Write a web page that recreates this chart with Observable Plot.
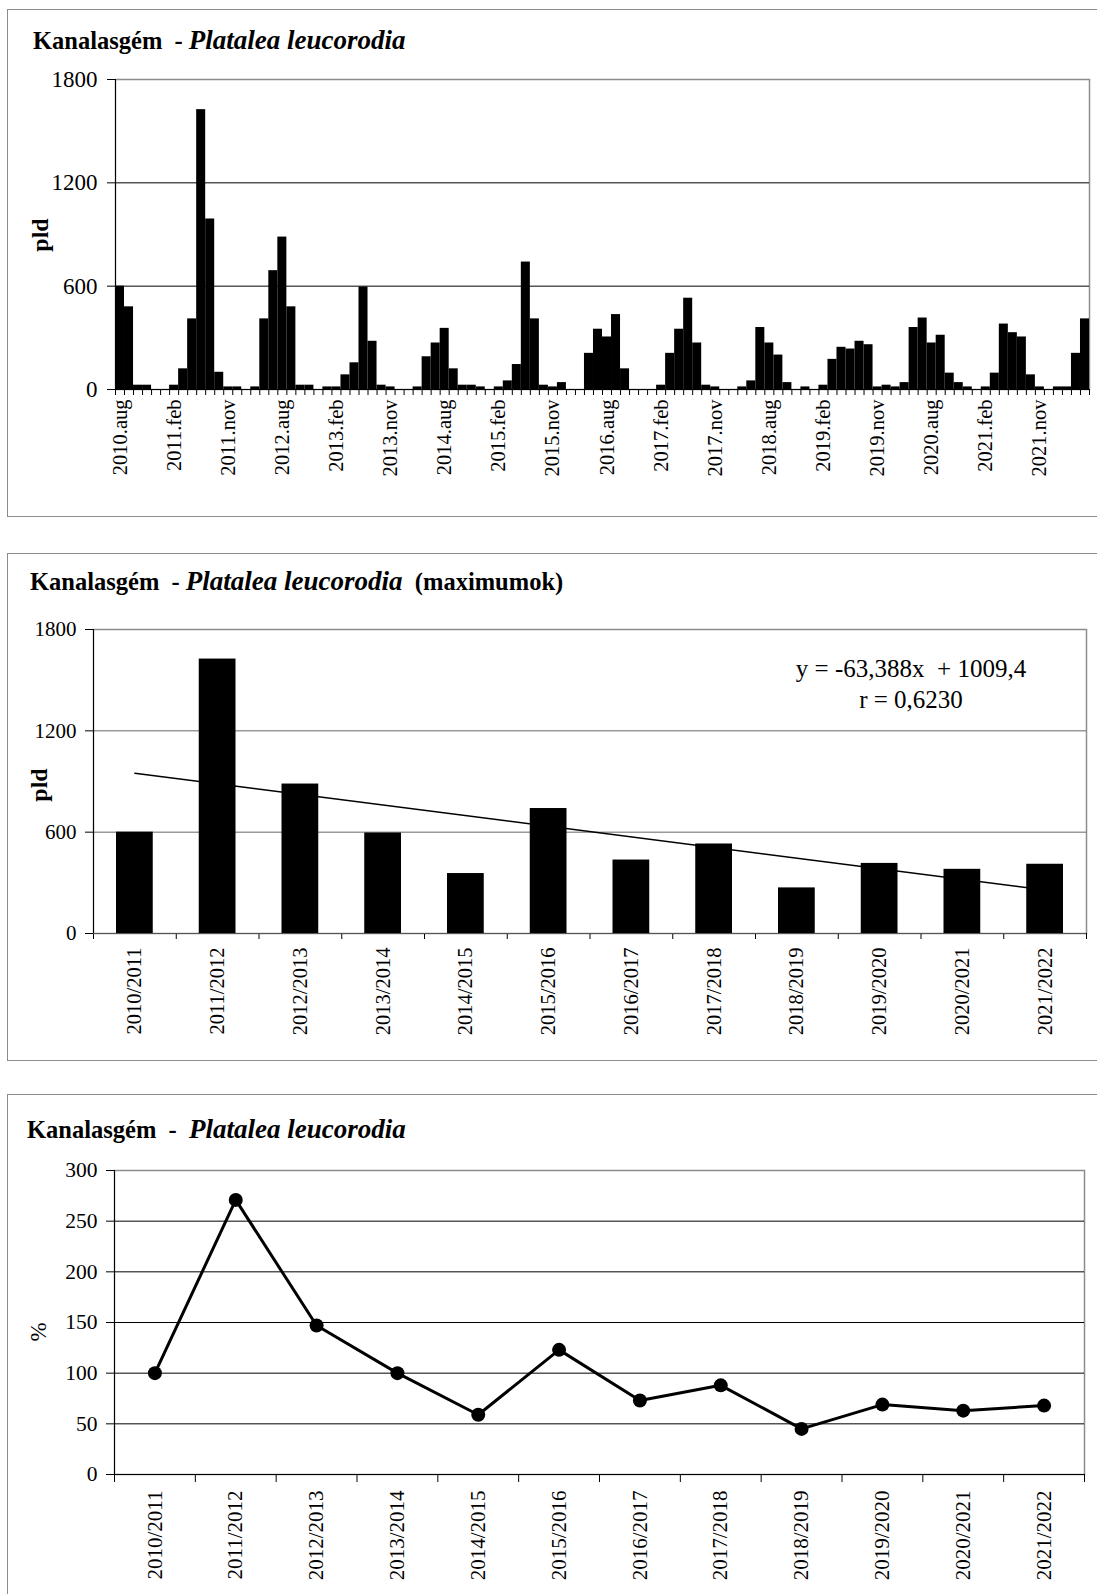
<!DOCTYPE html>
<html><head><meta charset="utf-8">
<script src="https://cdn.jsdelivr.net/npm/d3@7"></script>
<script src="https://cdn.jsdelivr.net/npm/@observablehq/plot@0.6"></script>
<style>
html,body{margin:0;padding:0;background:#fff;}
body{width:1097px;height:1594px;position:relative;overflow:hidden;font-family:"Liberation Serif","Times New Roman",serif;color:#000;}
.panel{position:absolute;left:7px;width:1120px;border:1.5px solid #8c8c8c;box-sizing:border-box;}
.title{position:absolute;font-size:24.5px;font-weight:bold;line-height:26px;white-space:pre;}
.title i{font-size:27px;}
.rot{position:absolute;transform:translate(-50%,-50%) rotate(-90deg);white-space:nowrap;line-height:1;}
.chart{position:absolute;left:0;}
.eq{position:absolute;font-size:25px;line-height:25px;white-space:pre;transform:translateX(-50%);}
</style></head><body>
<div class="panel" style="top:9px;height:508px"></div>
<div class="panel" style="top:553px;height:508px"></div>
<div class="panel" style="top:1094px;height:502px"></div>

<div class="title" style="left:33px;top:27px">Kanalasgém  - <i>Platalea leucorodia</i></div>
<div class="title" style="left:30px;top:568px">Kanalasgém  - <i>Platalea leucorodia</i>  (maximumok)</div>
<div class="title" style="left:27px;top:1116px">Kanalasgém  -  <i>Platalea leucorodia</i></div>

<div id="c1" class="chart" style="top:0px"></div>
<div id="c2" class="chart" style="top:540px"></div>
<div id="c3" class="chart" style="top:1085px"></div>

<div class="rot" style="left:40px;top:235px;font-size:24px;font-weight:bold">pld</div>
<div class="rot" style="left:39px;top:785px;font-size:24px;font-weight:bold">pld</div>
<div class="rot" style="left:38px;top:1332px;font-size:23px">%</div>

<div id="eq1" class="eq" style="left:911px;top:656px"></div>
<div id="eq2" class="eq" style="left:911px;top:687px"></div>

<script>
// ---- Chart 1: monthly counts (9 survey months per season, Aug start) ----
const monthlyCounts = [
  600, 480, 25, 25, 0, 0, 25, 120, 410,
  1625, 990, 100, 15, 15, 0, 15, 410, 690,
  885, 480, 25, 25, 0, 15, 15, 85, 155,
  595, 280, 25, 15, 0, 0, 15, 190, 270,
  355, 120, 25, 25, 15, 0, 15, 50, 145,
  740, 410, 25, 15, 40, 0, 0, 210, 350,
  305, 435, 120, 0, 0, 0, 25, 210, 350,
  530, 270, 25, 15, 0, 0, 15, 50, 360,
  270, 200, 40, 0, 15, 0, 25, 175, 245,
  235, 280, 260, 15, 25, 15, 40, 360, 415,
  270, 315, 95, 40, 15, 0, 15, 95, 380,
  330, 305, 85, 15, 0, 15, 15, 210, 410
];
const monthTickLabels = ["2010.aug","2011.feb","2011.nov","2012.aug","2013.feb","2013.nov",
  "2014.aug","2015.feb","2015.nov","2016.aug","2017.feb","2017.nov",
  "2018.aug","2019.feb","2019.nov","2020.aug","2021.feb","2021.nov"];
const countTicks = [0, 600, 1200, 1800];

// ---- Chart 2: seasonal maxima ----
const seasons = ["2010/2011","2011/2012","2012/2013","2013/2014","2014/2015","2015/2016",
  "2016/2017","2017/2018","2018/2019","2019/2020","2020/2021","2021/2022"];
const seasonMax = [600, 1625, 885, 595, 355, 740, 435, 530, 270, 415, 380, 410];
const trendText = ["y = -63,388x  + 1009,4", "r = 0,6230"];

// ---- Chart 3: index (%) ----
const seasonPct = [100, 271, 147, 100, 59, 123, 73, 88, 45, 69, 63, 68];
const pctTicks = [0, 50, 100, 150, 200, 250, 300];

document.getElementById("eq1").textContent = trendText[0];
document.getElementById("eq2").textContent = trendText[1];

const SERIF = "Liberation Serif";
const baseStyle = {fontFamily: "'Liberation Serif', 'Times New Roman', serif", color: "#000", background: "none", overflow: "visible"};

const monthly = monthlyCounts.map((v, i) => ({i, v}));
const chart1 = Plot.plot({
  width: 1097, height: 508,
  marginTop: 79, marginBottom: 119, marginLeft: 115, marginRight: 8,
  style: {...baseStyle, fontSize: "22px"},
  x: {domain: [0, monthlyCounts.length]},
  y: {domain: [0, 1800]},
  marks: [
    Plot.frame({stroke: "#8c8c8c", strokeWidth: 1.5}),
    Plot.ruleY([600, 1200], {stroke: "#000", strokeWidth: 1}),
    Plot.rect(monthly, {x1: "i", x2: d => d.i + 1, y1: 0, y2: "v", fill: "#000"}),
    Plot.axisY({ticks: countTicks, tickFormat: d => String(d), tickSize: 8, tickPadding: 10, fontSize: 23, fontFamily: SERIF, label: null}),
    Plot.axisX({ticks: d3.range(0, monthlyCounts.length + 1), tickFormat: () => "", tickSize: 6, label: null}),
    Plot.axisX({ticks: monthTickLabels.map((_, k) => 6 * k + 0.5), tickFormat: d => monthTickLabels[Math.round((d - 0.5) / 6)],
      tickSize: 0, tickPadding: 10, tickRotate: -90, fontSize: 20.5, fontFamily: SERIF, label: null}),
    Plot.ruleX([0], {stroke: "#000"}),
    Plot.ruleY([0], {stroke: "#000"})
  ]
});
document.getElementById("c1").append(chart1);

const maxRows = seasonMax.map((v, i) => ({i, v}));
const chart2 = Plot.plot({
  width: 1097, height: 520,
  marginTop: 89, marginBottom: 127, marginLeft: 93, marginRight: 11,
  style: {...baseStyle, fontSize: "21px"},
  x: {domain: [0, seasons.length]},
  y: {domain: [0, 1800]},
  marks: [
    Plot.frame({stroke: "#8c8c8c", strokeWidth: 1.5}),
    Plot.ruleY([600, 1200], {stroke: "#666", strokeWidth: 1}),
    Plot.linearRegressionY(maxRows, {x: d => d.i + 0.5, y: "v", ci: 0, stroke: "#000", strokeWidth: 1.5}),
    Plot.rect(maxRows, {x1: "i", x2: d => d.i + 1, y1: 0, y2: "v", fill: "#000", insetLeft: 23, insetRight: 23}),
    Plot.axisY({ticks: countTicks, tickFormat: d => String(d), tickSize: 8, tickPadding: 9, fontSize: 21, fontFamily: SERIF, label: null}),
    Plot.axisX({ticks: d3.range(0, seasons.length + 1), tickFormat: () => "", tickSize: 6, label: null}),
    Plot.axisX({ticks: seasons.map((_, k) => k + 0.5), tickFormat: d => seasons[Math.round(d - 0.5)],
      tickSize: 0, tickPadding: 14, tickRotate: -90, fontSize: 20.5, fontFamily: SERIF, label: null}),
    Plot.ruleX([0], {stroke: "#000"}),
    Plot.ruleY([0], {stroke: "#555"})
  ]
});
document.getElementById("c2").append(chart2);

const pctRows = seasonPct.map((v, i) => ({i, v}));
const chart3 = Plot.plot({
  width: 1097, height: 509,
  marginTop: 85, marginBottom: 120, marginLeft: 114, marginRight: 13,
  style: {...baseStyle, fontSize: "21px"},
  x: {domain: [0, seasons.length]},
  y: {domain: [0, 300]},
  marks: [
    Plot.frame({stroke: "#8c8c8c", strokeWidth: 1.5}),
    Plot.ruleY([50, 100, 150, 200, 250], {stroke: "#000", strokeWidth: 1}),
    Plot.line(pctRows, {x: d => d.i + 0.5, y: "v", stroke: "#000", strokeWidth: 3}),
    Plot.dot(pctRows, {x: d => d.i + 0.5, y: "v", r: 7, fill: "#000", stroke: "none"}),
    Plot.axisY({ticks: pctTicks, tickFormat: d => String(d), tickSize: 8, tickPadding: 9, fontSize: 21.5, fontFamily: SERIF, label: null}),
    Plot.axisX({ticks: d3.range(0, seasons.length + 1), tickFormat: () => "", tickSize: 8, label: null}),
    Plot.axisX({ticks: seasons.map((_, k) => k + 0.5), tickFormat: d => seasons[Math.round(d - 0.5)],
      tickSize: 0, tickPadding: 16, tickRotate: -90, fontSize: 21, fontFamily: SERIF, label: null}),
    Plot.ruleX([0], {stroke: "#000"}),
    Plot.ruleY([0], {stroke: "#000"})
  ]
});
document.getElementById("c3").append(chart3);
</script>
</body></html>
